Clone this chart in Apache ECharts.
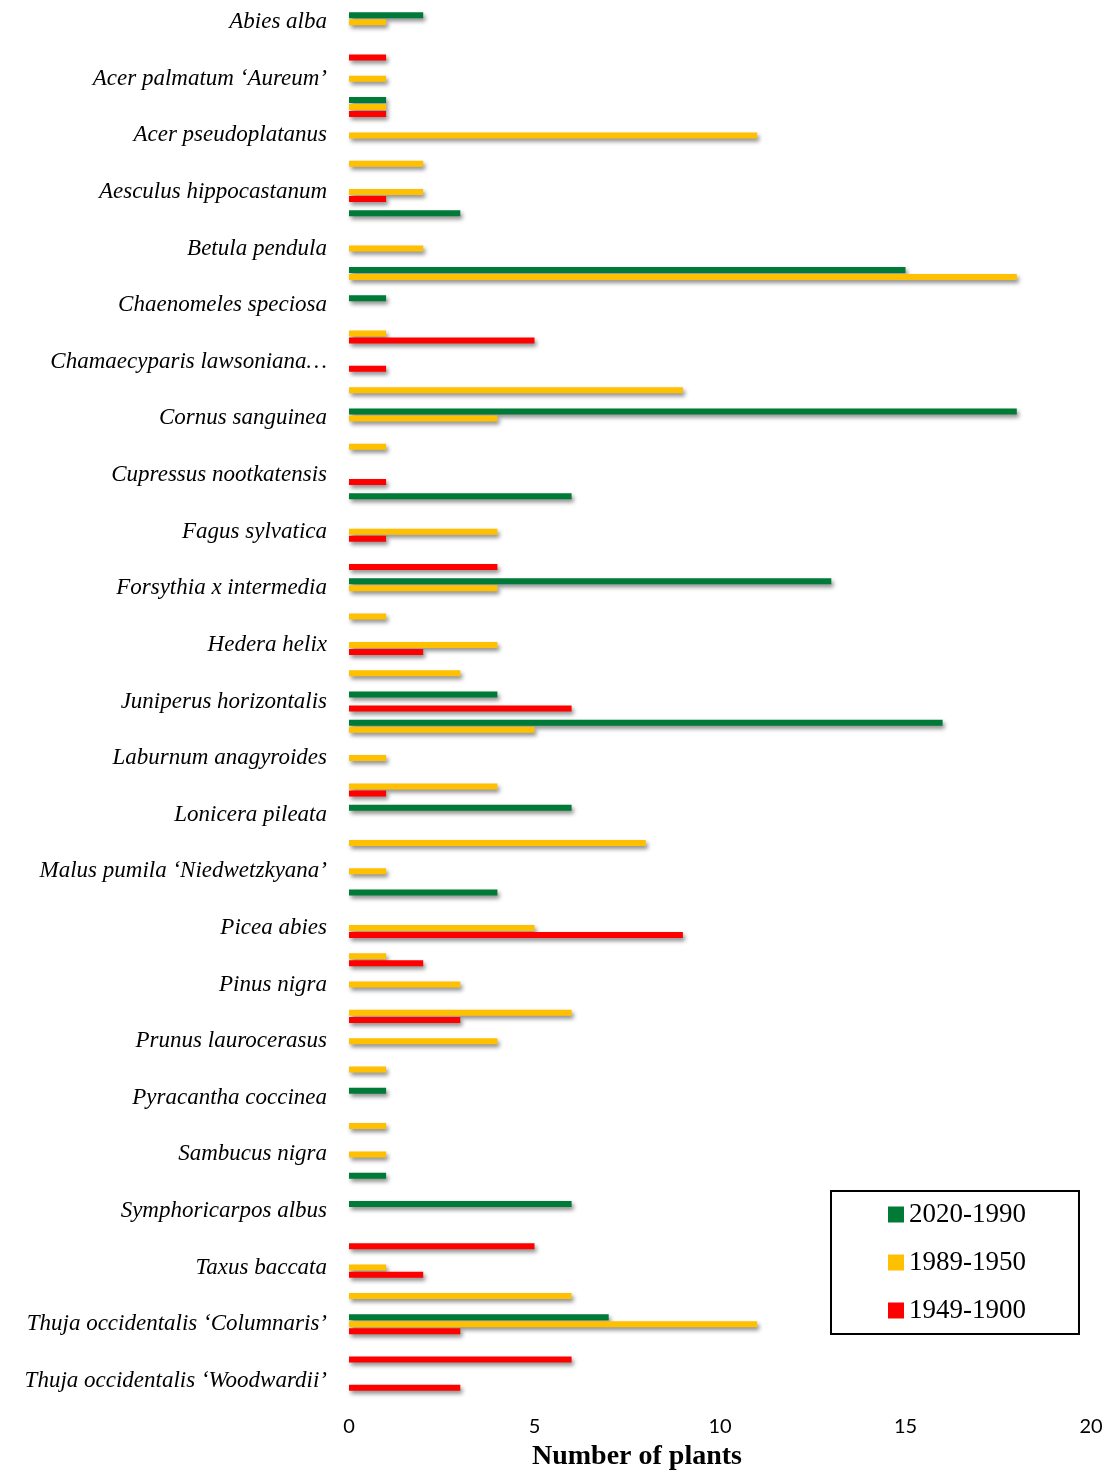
<!DOCTYPE html>
<html>
<head>
<meta charset="utf-8">
<script src="https://cdn.jsdelivr.net/npm/echarts@6.0.0/dist/echarts.min.js"></script>
<style>
  html, body { margin: 0; padding: 0; background: #fff; }
  #main { width: 1111px; height: 1476px; }
</style>
</head>
<body>
<div id="main"></div>
<script>
// labels that are printed (every other row of the category axis)
var species = [
    'Abies alba',
    'Acer palmatum \u2018Aureum\u2019',
    'Acer pseudoplatanus',
    'Aesculus hippocastanum',
    'Betula pendula',
    'Chaenomeles speciosa',
    'Chamaecyparis lawsoniana\u2026',
    'Cornus sanguinea',
    'Cupressus nootkatensis',
    'Fagus sylvatica',
    'Forsythia x intermedia',
    'Hedera helix',
    'Juniperus horizontalis',
    'Laburnum anagyroides',
    'Lonicera pileata',
    'Malus pumila \u2018Niedwetzkyana\u2019',
    'Picea abies',
    'Pinus nigra',
    'Prunus laurocerasus',
    'Pyracantha coccinea',
    'Sambucus nigra',
    'Symphoricarpos albus',
    'Taxus baccata',
    'Thuja occidentalis \u2018Columnaris\u2019',
    'Thuja occidentalis \u2018Woodwardii\u2019'
];

var seriesNames = ['2020-1990', '1989-1950', '1949-1900'];
var seriesColors = ['#007A37', '#FFC000', '#FF0000'];

// 49 rows, top to bottom
var p2020_1990 = [2, null, null, 1, null, null, null, 3, null, 15,
    1, null, null, null, 18, null, null, 6, null, null,
    13, null, null, null, 4, 16, null, null, 6, null,
    null, 4, null, null, null, null, null, null, 1, null,
    null, 1, 6, null, null, null, 7, null, null];

var p1989_1950 = [1, null, 1, 1, 11, 2, 2, null, 2, 18,
    null, 1, null, 9, 4, 1, null, null, 4, null,
    4, 1, 4, 3, null, 5, 1, 4, null, 8,
    1, null, 5, 1, 3, 6, 4, 1, null, 1,
    1, null, null, null, 1, 6, 11, null, null];

var p1949_1900 = [null, 1, null, 1, null, null, 1, null, null, null,
    null, 5, 1, null, null, null, 1, null, 1, 4,
    null, null, 2, null, 6, null, null, 1, null, null,
    null, null, 9, 2, null, 3, null, null, null, null,
    null, null, null, 5, 2, null, 3, 6, 3];

var xTicks = { min: 0, max: 20, interval: 5 };

var categories = [];
for (var i = 0; i < p2020_1990.length; i++) {
    categories.push(i % 2 === 0 ? species[i / 2] : '');
}

var myChart = echarts.init(document.getElementById('main'));

function makeSeries(name, color, data) {
    return {
        name: name,
        type: 'bar',
        data: data,
        barWidth: 6,
        barGap: '17%',
        itemStyle: {
            color: color,
            shadowColor: 'rgba(0,0,0,0.45)',
            shadowBlur: 4,
            shadowOffsetX: 2,
            shadowOffsetY: 3
        }
    };
}

var option = {
    backgroundColor: '#fff',
    animation: false,
    grid: {
        left: 349,
        right: 20,
        top: 8,
        bottom: 78,
        containLabel: false
    },
    legend: {
        data: seriesNames,
        orient: 'vertical',
        left: 831,
        top: 1191,
        padding: [10, 53, 10, 57],
        itemWidth: 16,
        itemHeight: 16,
        itemGap: 21,
        borderColor: '#000',
        borderWidth: 2,
        icon: 'rect',
        textStyle: {
            fontFamily: 'Liberation Serif',
            fontSize: 27,
            lineHeight: 26,
            color: '#000'
        }
    },
    xAxis: {
        type: 'value',
        min: xTicks.min,
        max: xTicks.max,
        interval: xTicks.interval,
        name: 'Number of plants',
        nameLocation: 'middle',
        nameGap: 48,
        nameTextStyle: {
            fontFamily: 'Liberation Serif',
            fontWeight: 'bold',
            fontSize: 28,
            color: '#000',
            padding: [0, 166, 0, 0]
        },
        axisLine: { show: false },
        axisTick: { show: false },
        splitLine: { show: false },
        axisLabel: {
            margin: 22,
            fontFamily: 'Lato',
            fontSize: 20,
            color: '#000'
        }
    },
    yAxis: {
        type: 'category',
        inverse: true,
        data: categories,
        axisLine: { show: false },
        axisTick: { show: false },
        axisLabel: {
            interval: 0,
            margin: 22,
            fontFamily: 'Liberation Serif',
            fontStyle: 'italic',
            fontSize: 23,
            color: '#000'
        }
    },
    series: [
        makeSeries(seriesNames[0], seriesColors[0], p2020_1990),
        makeSeries(seriesNames[1], seriesColors[1], p1989_1950),
        makeSeries(seriesNames[2], seriesColors[2], p1949_1900)
    ]
};

myChart.setOption(option);
</script>
</body>
</html>
